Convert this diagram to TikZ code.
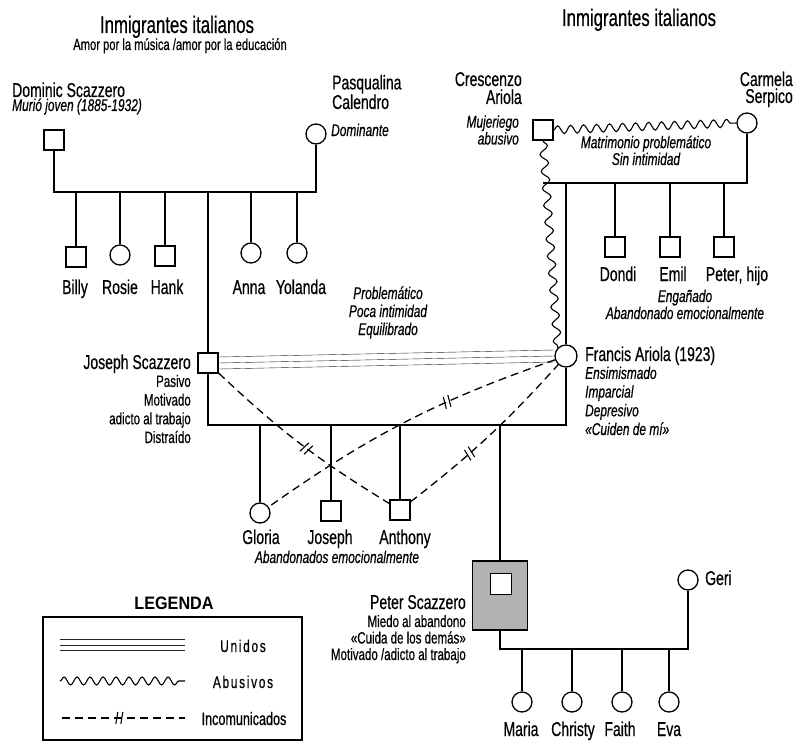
\documentclass[tikz,border=0pt]{standalone}
\usepackage{fontspec}
\setmainfont[FakeStretch=0.7,FakeBold=0.5]{Liberation Sans}
\newfontfamily\legfont[FakeStretch=0.9]{Liberation Sans}
\newfontfamily\spfont[FakeStretch=0.7,FakeBold=0.5,LetterSpace=10]{Liberation Sans}
\usepackage{tikz}
\usetikzlibrary{decorations.pathmorphing,decorations.markings}
\tikzstyle{male} = [rectangle, draw=black, line width=1.3pt, fill=white, minimum size=20pt, inner sep=0pt]
\tikzstyle{female} = [circle, draw=black, line width=1.3pt, fill=white, minimum size=20pt, inner sep=0pt]
\tikzstyle{petsq} = [rectangle, draw=black, line width=1.8pt, fill=black!30, minimum width=55pt, minimum height=69pt, inner sep=0pt]
\tikzstyle{ptitle} = [inner sep=0pt, font=\fontsize{24}{26}\selectfont]
\tikzstyle{psub} = [inner sep=0pt, font=\fontsize{16}{18}\selectfont]
\tikzstyle{pname} = [inner sep=0pt, font=\fontsize{20}{17}\selectfont]
\tikzstyle{pnote} = [inner sep=0pt, font=\fontsize{16.5}{18.7}\selectfont]
\tikzstyle{pital} = [inner sep=0pt, font=\fontsize{17}{18.7}\selectfont\itshape]
\tikzstyle{legtext} = [inner sep=0pt, font=\spfont\fontsize{17}{17}\selectfont]
\tikzstyle{famline} = [line width=1.3pt]
\tikzstyle{unido} = [thin, black!85]
\tikzstyle{abuso} = [line width=1.1pt, decorate, decoration={snake, segment length=13pt, amplitude=4pt}]
\tikzset{incom/.style={line width=1.3pt, dash pattern=on 8pt off 5pt,
    postaction={decorate, decoration={markings, mark=at position #1 with {
      \draw[solid, line width=1.1pt] (-4pt,-6pt) -- (-2pt,6pt);
      \draw[solid, line width=1.1pt] (1pt,-6pt) -- (3pt,6pt);}}}}}
\begin{document}
\begin{tikzpicture}[x=1pt,y=-1pt]
    \useasboundingbox (0,0) rectangle (795,741);
    \node (tit1) [ptitle, anchor=base] at (177,33) {Inmigrantes italianos};
    \node (sub1) [psub, anchor=base] at (180,50) {Amor por la música /amor por la educación};
    \node (tit2) [ptitle, anchor=base] at (639,26) {Inmigrantes italianos};

    \node (dom) [male] at (54,140) {};
    \node (pas) [female] at (316,134) {};
    \node (domlab) [pname, anchor=base west] at (12,97) {Dominic Scazzero};
    \node (domnote) [pital, anchor=base west] at (12,111) {Murió joven (1885-1932)};
    \node (paslab) [pname, anchor=base west, align=left, font=\fontsize{20}{16}\selectfont] at (332,109) {Pasqualina\\Calendro};
    \node (pasnote) [pital, anchor=base west] at (331,136) {Dominante};

    \node (bil) [male] at (76,257) {};
    \node (ros) [female] at (120,255) {};
    \node (han) [male] at (165,256) {};
    \node (ann) [female] at (251,253) {};
    \node (yol) [female] at (297,253) {};
    \node (billab) [pname, anchor=base] at (75,294) {Billy};
    \node (roslab) [pname, anchor=base] at (120,294) {Rosie};
    \node (hanlab) [pname, anchor=base] at (167,294) {Hank};
    \node (annlab) [pname, anchor=base] at (249,294) {Anna};
    \node (yollab) [pname, anchor=base] at (301,294) {Yolanda};

    \node (cre) [male] at (543,130) {};
    \node (car) [female] at (747,123) {};
    \node (crelab) [pname, anchor=base east, align=right, font=\fontsize{20}{18}\selectfont] at (522,104) {Crescenzo\\Ariola};
    \node (crenote) [pital, anchor=base east, align=right, font=\fontsize{17}{14.5}\selectfont\itshape] at (519,144.5) {Mujeriego\\abusivo};
    \node (carlab) [pname, anchor=base east, align=right, font=\fontsize{20}{17}\selectfont] at (793,103) {Carmela\\Serpico};
    \node (matnote) [pital, anchor=base, align=center, font=\fontsize{17}{15.5}\selectfont\itshape] at (646,165) {Matrimonio problemático\\Sin intimidad};

    \node (don) [male] at (615,247) {};
    \node (emi) [male] at (670,247) {};
    \node (pej) [male] at (724,247) {};
    \node (donlab) [pname, anchor=base] at (618,281) {Dondi};
    \node (emilab) [pname, anchor=base] at (673,281) {Emil};
    \node (pejlab) [pname, anchor=base] at (737,281) {Peter, hijo};
    \node (eminote) [pital, anchor=base, align=center, font=\fontsize{17}{17}\selectfont\itshape] at (685,319) {Engañado\\Abandonado emocionalmente};

    \node (jos) [male] at (208,363) {};
    \node (fra) [female, minimum size=22pt] at (566,356) {};
    \node (joslab) [pname, anchor=base east] at (191,369) {Joseph Scazzero};
    \node (josnote) [pnote, anchor=base east, align=right] at (191,443) {Pasivo\\Motivado\\adicto al trabajo\\Distraído};
    \node (fralab) [pname, anchor=base west] at (585,361) {Francis Ariola (1923)};
    \node (franote) [pital, anchor=base west, align=left] at (585,435) {Ensimismado\\Imparcial\\Depresivo\\«Cuiden de mí»};
    \node (relnote) [pital, anchor=base, align=center, font=\fontsize{17}{18}\selectfont\itshape] at (388,335) {Problemático\\Poca intimidad\\Equilibrado};

    \node (glo) [female] at (260,513) {};
    \node (jjr) [male] at (331,511) {};
    \node (ant) [male] at (400,510) {};
    \node (glolab) [pname, anchor=base] at (261,544) {Gloria};
    \node (jjrlab) [pname, anchor=base] at (330,544) {Joseph};
    \node (antlab) [pname, anchor=base] at (405,544) {Anthony};
    \node (abnote) [pital, anchor=base] at (337,563) {Abandonados emocionalmente};

    \node (petbox) [petsq] at (500,595.5) {};
    \node (pet) [male, minimum size=21pt] at (501,584) {};
    \node (petlab) [pname, anchor=base east] at (466,609) {Peter Scazzero};
    \node (petnote) [pnote, anchor=base east, align=right, font=\fontsize{16.5}{16.5}\selectfont] at (466,660) {Miedo al abandono\\«Cuida de los demás»\\Motivado /adicto al trabajo};
    \node (ger) [female] at (688,580) {};
    \node (gerlab) [pname, anchor=base west] at (705,585) {Geri};

    \node (mar) [female] at (522,702) {};
    \node (chr) [female] at (572,702) {};
    \node (fai) [female] at (622,702) {};
    \node (eva) [female] at (669,702) {};
    \node (marlab) [pname, anchor=base] at (521,736) {Maria};
    \node (chrlab) [pname, anchor=base] at (573,736) {Christy};
    \node (failab) [pname, anchor=base] at (620,736) {Faith};
    \node (evalab) [pname, anchor=base] at (669,736) {Eva};

    \coordinate (bar1) at (0,192);
    \coordinate (bar2) at (0,425);
    \coordinate (bar3) at (0,183);
    \coordinate (bar4) at (0,649);

    \draw[famline] (dom.south) -- (dom |- bar1) -- (pas |- bar1) -- (pas.south);
    \draw[famline] (bil.north) -- (bil |- bar1);
    \draw[famline] (ros.north) -- (ros |- bar1);
    \draw[famline] (han.north) -- (han |- bar1);
    \draw[famline] (ann.north) -- (ann |- bar1);
    \draw[famline] (yol.north) -- (yol |- bar1);
    \draw[famline] (jos.north) -- (jos |- bar1);

    \draw[famline] (car.south) -- (car |- bar3) -- (cre |- bar3);
    \draw[famline] (fra.north) -- (fra |- bar3);
    \draw[famline] (don.north) -- (don |- bar3);
    \draw[famline] (emi.north) -- (emi |- bar3);
    \draw[famline] (pej.north) -- (pej |- bar3);
    \draw[abuso] (cre.east) -- (car.west);
    \draw[abuso, decoration={segment length=17pt}] (cre.south) -- (fra.north west);

    \draw[famline] (jos.south) -- (jos |- bar2) -- (fra |- bar2) -- (fra.south);
    \draw[famline] (glo.north) -- (glo |- bar2);
    \draw[famline] (jjr.north) -- (jjr |- bar2);
    \draw[famline] (ant.north) -- (ant |- bar2);
    \draw[famline] (petbox.north) -- (petbox |- bar2);
    \draw[unido] ([yshift=6pt]jos.east) -- ([yshift=6pt]fra.west);
    \draw[unido] (jos.east) -- (fra.west);
    \draw[unido] ([yshift=-6pt]jos.east) -- ([yshift=-6pt]fra.west);
    \draw[incom=0.54] (jos) to[bend right=6] (ant);
    \draw[incom=0.36] (fra) to[bend right=8] (glo);
    \draw[incom=0.38] (ant) to[bend right=5] (fra);

    \draw[famline] (petbox.south) -- (petbox |- bar4) -- (ger |- bar4) -- (ger.south);
    \draw[famline] (mar.north) -- (mar |- bar4);
    \draw[famline] (chr.north) -- (chr |- bar4);
    \draw[famline] (fai.north) -- (fai |- bar4);
    \draw[famline] (eva.north) -- (eva |- bar4);

    \node (legtit) [anchor=base, inner sep=0pt, font=\legfont\bfseries\fontsize{18}{18}\selectfont] at (174,609) {LEGENDA};
    \node (leg) [draw, line width=1.3pt, minimum width=259pt, minimum height=123pt, inner sep=0pt] at (172.5,678.5) {};
    \coordinate (lu1) at (60,645);
    \coordinate (lu2) at (185,645);
    \coordinate (la1) at (60,681);
    \coordinate (la2) at (185,681);
    \coordinate (li1) at (62,718);
    \coordinate (li2) at (185,718);
    \draw[unido] ([yshift=5.5pt]lu1) -- ([yshift=5.5pt]lu2);
    \draw[unido] (lu1) -- (lu2);
    \draw[unido] ([yshift=-5.5pt]lu1) -- ([yshift=-5.5pt]lu2);
    \draw[abuso] (la1) -- (la2);
    \draw[incom=0.47] (li1) -- (li2);
    \node (legu) [legtext, anchor=base] at (243,652) {Unidos};
    \node (lega) [legtext, anchor=base] at (243,688) {Abusivos};
    \node (legi) [inner sep=0pt, font=\fontsize{18}{18}\selectfont, anchor=base] at (244,725) {Incomunicados};
\end{tikzpicture}
\end{document}
